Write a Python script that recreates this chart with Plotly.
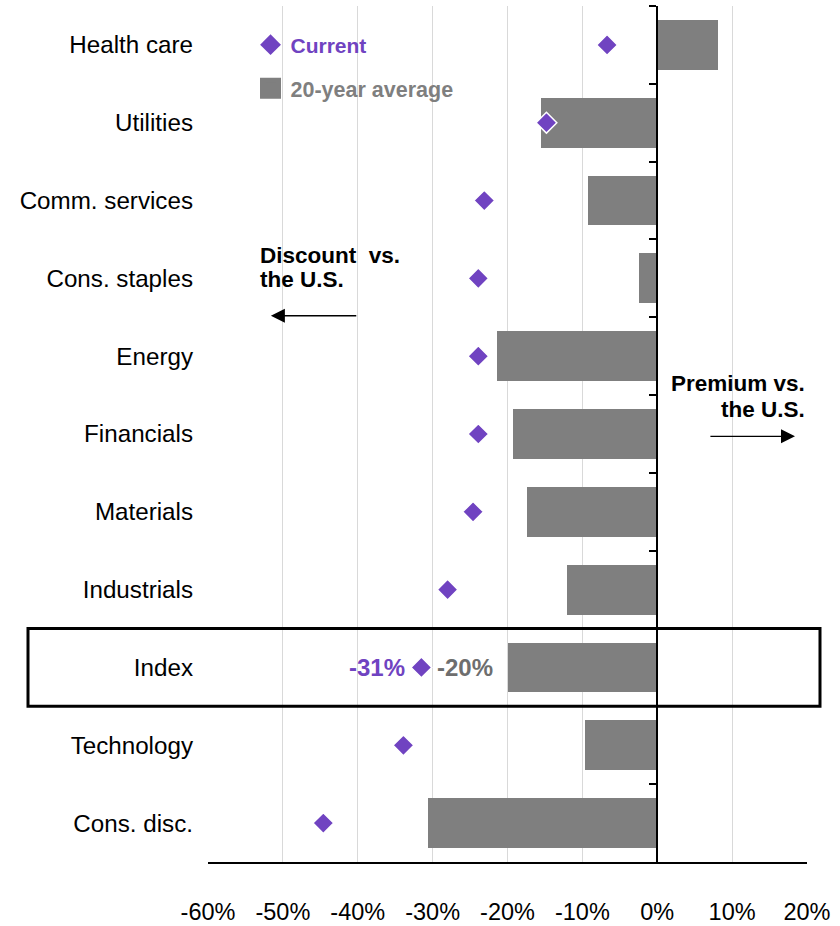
import plotly.graph_objects as go

categories = ["Health care", "Utilities", "Comm. services", "Cons. staples", "Energy",
              "Financials", "Materials", "Industrials", "Index", "Technology", "Cons. disc."]
avg_20yr = [8.1, -15.5, -9.2, -2.5, -21.4, -19.2, -17.4, -12.0, -20.0, -9.7, -30.6]
current = [-6.7, -14.8, -23.1, -23.9, -23.9, -23.9, -24.6, -28.0, -31.5, -33.9, -44.6]
x_ticks = [-60, -50, -40, -30, -20, -10, 0, 10, 20]
x_tick_labels = ["-60%", "-50%", "-40%", "-30%", "-20%", "-10%", "0%", "10%", "20%"]
index_current_label = "-31%"
index_avg_label = "-20%"

PURPLE = "#7043C1"
GRAY = "#7F7F7F"
FONT = "Liberation Sans, Arial, sans-serif"

n = len(categories)
y_range = [n - 0.5, -0.5]

fig = go.Figure()
fig.add_trace(go.Bar(x=avg_20yr, y=categories, orientation="h", width=0.64,
                     marker=dict(color=GRAY, line=dict(width=0)),
                     showlegend=False, hoverinfo="skip"))
fig.add_trace(go.Scatter(x=current, y=categories, mode="markers",
                         marker=dict(symbol="diamond", size=16, color=PURPLE,
                                     line=dict(color="white", width=1.5)),
                         showlegend=False, hoverinfo="skip"))
# legend entries
fig.add_trace(go.Scatter(x=[None], y=[None], mode="markers", name="<b>Current</b>",
                         marker=dict(symbol="diamond", size=16, color=PURPLE),
                         legend="legend"))
fig.add_trace(go.Scatter(x=[None], y=[None], mode="markers", name="<b>20-year average</b>",
                         marker=dict(symbol="square", size=16, color=GRAY,
                                     line=dict(color=GRAY, width=5)),
                         legend="legend2"))
# invisible trace for zero-position axis with boundary ticks
fig.add_trace(go.Scatter(x=[0] * n, y=categories, yaxis="y2",
                         mode="markers", marker=dict(opacity=0), showlegend=False,
                         hoverinfo="skip"))

fig.update_layout(
    width=840, height=926,
    margin=dict(l=208, r=33, t=6, b=64, autoexpand=False),
    plot_bgcolor="white", paper_bgcolor="white",
    font=dict(family=FONT, size=23.5, color="black"),
    bargap=0,
    xaxis=dict(range=[-60, 20], tickvals=x_ticks, ticktext=x_tick_labels,
               showgrid=True, gridcolor="#D9D9D9", gridwidth=1,
               zeroline=False, showline=True, linecolor="black", linewidth=2,
               ticks="", ticklabelstandoff=28, fixedrange=True),
    yaxis=dict(categoryorder="array", categoryarray=categories, range=y_range,
               showgrid=False, zeroline=False, showline=False, ticks="",
               ticklabelstandoff=14, tickfont=dict(family=FONT, size=24.2)),
    yaxis2=dict(overlaying="y", anchor="free", position=0.75, side="left",
                categoryorder="array", categoryarray=categories, range=y_range,
                showgrid=False, zeroline=False, showline=True, linecolor="black",
                linewidth=2, ticks="outside", ticklen=7, tickwidth=2, tickcolor="black",
                tickson="boundaries", showticklabels=False),
    legend=dict(x=0.071, y=0.9544, xanchor="left", yanchor="middle",
                font=dict(family=FONT, size=21, color=PURPLE),
                bgcolor="rgba(0,0,0,0)", borderwidth=0),
    legend2=dict(x=0.071, y=0.904, xanchor="left", yanchor="middle",
                 font=dict(family=FONT, size=21.5, color=GRAY),
                 bgcolor="rgba(0,0,0,0)", borderwidth=0),
)

ann_font = dict(family=FONT, size=22.5, color="black")
annotations = [
    dict(x=-53.3, y=2.70, xref="x", yref="y", text="<b>Discount  vs.</b>", showarrow=False,
         xanchor="left", yanchor="middle", font=ann_font),
    dict(x=-53.3, y=3.02, xref="x", yref="y", text="<b>the U.S.</b>", showarrow=False,
         xanchor="left", yanchor="middle", font=ann_font),
    dict(x=20, y=4.35, xref="x", yref="y", text="<b>Premium vs.</b>", showarrow=False,
         xanchor="right", yanchor="middle", font=ann_font),
    dict(x=20, y=4.69, xref="x", yref="y", text="<b>the U.S.</b>", showarrow=False,
         xanchor="right", yanchor="middle", font=ann_font),
    dict(x=-51.6, y=3.48, ax=-40, ay=3.48, xref="x", yref="y", axref="x", ayref="y",
         text="", showarrow=True, arrowhead=2, arrowsize=2.0, arrowwidth=1.4,
         arrowcolor="black"),
    dict(x=18.4, y=5.03, ax=6.9, ay=5.03, xref="x", yref="y", axref="x", ayref="y",
         text="", showarrow=True, arrowhead=2, arrowsize=2.0, arrowwidth=1.4,
         arrowcolor="black"),
    dict(x=current[8], y=categories[8], xref="x", yref="y", text="<b>" + index_current_label + "</b>",
         showarrow=False, xanchor="right", yanchor="middle", xshift=-14,
         font=dict(family=FONT, size=24, color=PURPLE)),
    dict(x=current[8], y=categories[8], xref="x", yref="y", text="<b>" + index_avg_label + "</b>",
         showarrow=False, xanchor="left", yanchor="middle", xshift=14,
         font=dict(family=FONT, size=24, color="#6E6E6E")),
]
fig.update_layout(annotations=annotations)

fig.add_shape(type="rect", xref="paper", yref="y", x0=-0.3005, x1=1.0217, y0=7.5, y1=8.5,
              line=dict(color="black", width=3), fillcolor="rgba(0,0,0,0)", layer="above")

fig.write_html("out.html", config={"displayModeBar": False},
               post_script="document.body.style.margin='0';")
